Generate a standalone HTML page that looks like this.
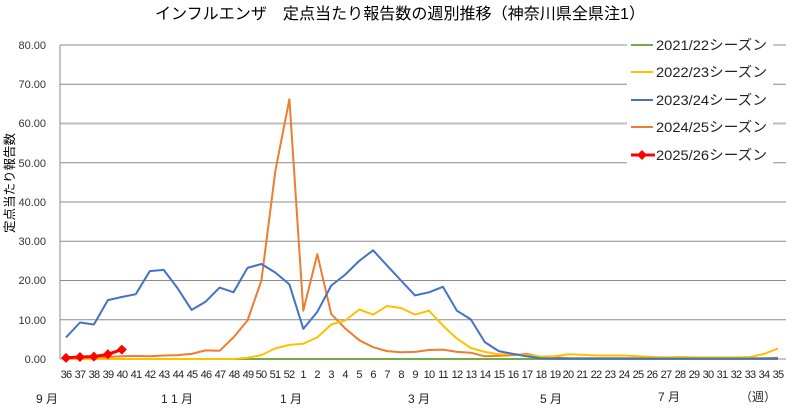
<!DOCTYPE html>
<html><head><meta charset="utf-8"><style>
body{margin:0;background:#fff;}
svg{display:block;font-family:"Liberation Sans","Noto Sans CJK JP",sans-serif;}
</style></head><body>
<svg id="s" width="796" height="413" viewBox="0 0 796 413" xmlns="http://www.w3.org/2000/svg">
<rect width="796" height="413" fill="#fff"/>
<text x="400" y="19" font-size="16" text-anchor="middle" fill="#000" textLength="490" lengthAdjust="spacingAndGlyphs">インフルエンザ　定点当たり報告数の週別推移（神奈川県全県注1）</text>
<g stroke="#8c8c8c" stroke-width="1">
<line x1="60" y1="45" x2="786" y2="45"/>
<line x1="60" y1="84.2" x2="786" y2="84.2"/>
<line x1="60" y1="123.5" x2="786" y2="123.5" stroke="#bdbdbd" stroke-width="2"/>
<line x1="60" y1="162.7" x2="786" y2="162.7"/>
<line x1="60" y1="202" x2="786" y2="202"/>
<line x1="60" y1="241.2" x2="786" y2="241.2"/>
<line x1="60" y1="280.5" x2="786" y2="280.5"/>
<line x1="60" y1="319.7" x2="786" y2="319.7"/>
<line x1="60" y1="359" x2="786" y2="359"/>
<line x1="60" y1="45" x2="60" y2="359"/>
</g>
<g font-size="11" fill="#333" text-anchor="end">
<text x="46" y="49">80.00</text><text x="46" y="88">70.00</text><text x="46" y="127">60.00</text><text x="46" y="167">50.00</text><text x="46" y="206">40.00</text><text x="46" y="245">30.00</text><text x="46" y="284">20.00</text><text x="46" y="324">10.00</text><text x="46" y="363">0.00</text>
</g>
<text transform="translate(14,183) rotate(-90)" font-size="12.5" text-anchor="middle" fill="#000">定点当たり報告数</text>
<g font-size="11" fill="#222" text-anchor="middle" letter-spacing="-0.8">
<text x="66" y="378">36</text><text x="80" y="378">37</text><text x="94" y="378">38</text><text x="108" y="378">39</text><text x="122" y="378">40</text><text x="136" y="378">41</text><text x="150" y="378">42</text><text x="164" y="378">43</text><text x="178" y="378">44</text><text x="192" y="378">45</text><text x="206" y="378">46</text><text x="220" y="378">47</text><text x="234" y="378">48</text><text x="248" y="378">49</text><text x="261" y="378">50</text><text x="275" y="378">51</text><text x="289" y="378">52</text><text x="303" y="378">1</text><text x="317" y="378">2</text><text x="331" y="378">3</text><text x="345" y="378">4</text><text x="359" y="378">5</text><text x="373" y="378">6</text><text x="387" y="378">7</text><text x="401" y="378">8</text><text x="415" y="378">9</text><text x="429" y="378">10</text><text x="443" y="378">11</text><text x="457" y="378">12</text><text x="471" y="378">13</text><text x="485" y="378">14</text><text x="499" y="378">15</text><text x="513" y="378">16</text><text x="527" y="378">17</text><text x="541" y="378">18</text><text x="555" y="378">19</text><text x="568" y="378">20</text><text x="582" y="378">21</text><text x="596" y="378">22</text><text x="610" y="378">23</text><text x="624" y="378">24</text><text x="638" y="378">25</text><text x="652" y="378">26</text><text x="666" y="378">27</text><text x="680" y="378">28</text><text x="694" y="378">29</text><text x="708" y="378">30</text><text x="722" y="378">31</text><text x="736" y="378">32</text><text x="750" y="378">33</text><text x="764" y="378">34</text><text x="778" y="378">35</text>
</g>
<g font-size="12" fill="#222" text-anchor="middle">
<text x="47" y="403">9 月</text><text x="177" y="403">1 1 月</text><text x="291" y="403">1 月</text><text x="419" y="403">3 月</text><text x="551" y="403">5 月</text><text x="669" y="401">7 月</text><text x="758" y="401">（週）</text>
</g>
<g id="series" fill="none" stroke-width="2" stroke-linejoin="round"></g>
<rect x="627" y="37" width="146" height="130" fill="#fff"/>
<g stroke-width="2">
<line x1="631" y1="45" x2="653" y2="45" stroke="#70ad47"/>
<line x1="631" y1="72" x2="653" y2="72" stroke="#ffc000"/>
<line x1="631" y1="100" x2="653" y2="100" stroke="#4472c4"/>
<line x1="631" y1="127" x2="653" y2="127" stroke="#ed7d31"/>
<line x1="631" y1="155" x2="655" y2="155" stroke="#ff0000" stroke-width="3"/>
<path d="M642 150 L647 155 L642 160 L637 155Z" fill="#ff0000"/>
</g>
<g font-size="14" fill="#222">
<text x="656" y="50" textLength="111" lengthAdjust="spacingAndGlyphs">2021/22シーズン</text><text x="656" y="77" textLength="111" lengthAdjust="spacingAndGlyphs">2022/23シーズン</text><text x="656" y="105" textLength="111" lengthAdjust="spacingAndGlyphs">2023/24シーズン</text><text x="656" y="132" textLength="111" lengthAdjust="spacingAndGlyphs">2024/25シーズン</text><text x="656" y="160" textLength="111" lengthAdjust="spacingAndGlyphs">2025/26シーズン</text>
</g>
</svg>
<script>
var X=i=>66+13.96*i, Y=v=>359-3.925*v;
var g=document.getElementById('series'),NS='http://www.w3.org/2000/svg';
function line(d,c,w){var p=document.createElementNS(NS,'polyline');p.setAttribute('points',d.map((v,i)=>X(i).toFixed(1)+','+Y(v).toFixed(1)).join(' '));p.setAttribute('stroke',c);if(w)p.setAttribute('stroke-width',w);g.appendChild(p);}
var z=[];for(var i=0;i<52;i++)z.push(0);
line(z,'#70ad47');
var or=[0.2,0.3,0.4,0.5,0.7,0.8,0.7,0.9,1,1.3,2.2,2.1,5.5,9.8,20,48,66.2,12.3,26.7,11.5,7.8,4.8,3,2,1.7,1.8,2.3,2.4,1.8,1.6,0.7,0.8,1,1.3,0.5,0.4,0.2,0.2,0.2,0.2,0.2,0.2,0.2,0.2,0.2,0.2,0.2,0.2,0.2,0.2,0.2,0.3];
line(or,'#ed7d31');
var ye=[0,0,0,0,0,0,0,0,0,0,0,0,0,0.3,1,2.7,3.6,3.9,5.5,8.8,9.8,12.6,11.3,13.5,13,11.3,12.3,8.5,5.2,2.8,1.8,1.2,1.3,1,0.6,0.7,1.2,1.1,0.9,0.9,0.9,0.7,0.5,0.4,0.5,0.4,0.4,0.4,0.4,0.5,1.3,2.7];
line(ye,'#ffc000');
var bl=[5.5,9.3,8.8,15,15.8,16.5,22.4,22.7,18,12.5,14.6,18.2,17,23.2,24.2,22,19,7.7,12,18.7,21.5,25,27.7,23.8,20,16.2,17,18.4,12.3,10.1,4.3,2,1.3,0.7,0.2,0.1,0.1,0.1,0.1,0.1,0.1,0.1,0.1,0.1,0.1,0.1,0.1,0.1,0.1,0.1,0.1,0.1];
line(bl,'#4472c4');
var rd=[0.3,0.5,0.6,1.2,2.4];
line(rd,'#ff0000',3);
rd.forEach((v,i)=>{var p=document.createElementNS(NS,'path');var x=X(i),y=Y(v);p.setAttribute('d','M'+x+' '+(y-5)+'L'+(x+5)+' '+y+'L'+x+' '+(y+5)+'L'+(x-5)+' '+y+'Z');p.setAttribute('fill','#ff0000');p.setAttribute('stroke','none');g.appendChild(p);});
</script>
</body></html>
